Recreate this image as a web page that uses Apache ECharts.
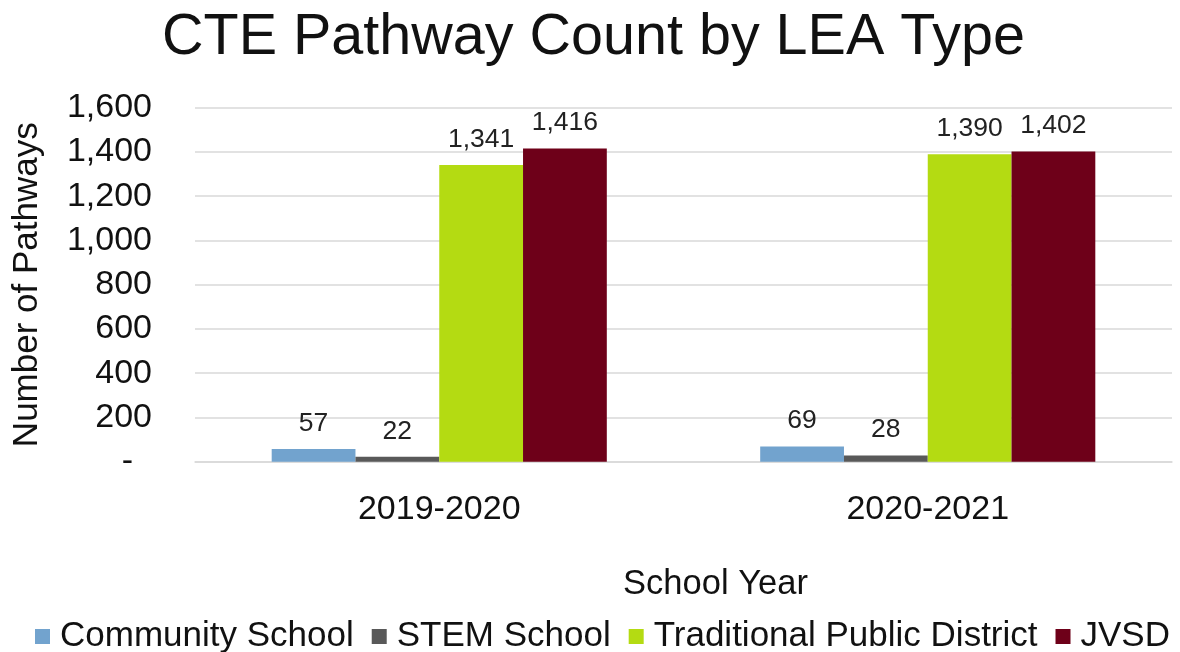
<!DOCTYPE html>
<html>
<head>
<meta charset="utf-8">
<script src="https://cdn.jsdelivr.net/npm/echarts@6/dist/echarts.min.js"></script>
<style>
  html, body { margin: 0; padding: 0; background: #fff; }
  #chart { width: 1180px; height: 652px; }
</style>
</head>
<body>
<div id="chart"></div>
<script>
// School years on the category axis
const years = ['2019-2020', '2020-2021'];

// Pathway counts per LEA type
const communitySchool = [57, 69];
const stemSchool = [22, 28];
const traditionalDistrict = [1341, 1390];
const jvsd = [1416, 1402];

const seriesNames = ['Community School', 'STEM School', 'Traditional Public District', 'JVSD'];
const seriesColors = ['#72A3CE', '#595959', '#B4DB12', '#6E0019'];

// Value axis range
const yMin = 0;
const yMax = 1600;
const yStep = 200;

const FONT = "'Liberation Sans', Arial, sans-serif";
const withCommas = v => String(v).replace(/\B(?=(\d{3})+(?!\d))/g, ',');

const seriesData = [communitySchool, stemSchool, traditionalDistrict, jvsd];

const chart = echarts.init(document.getElementById('chart'), null, { renderer: 'canvas' });

chart.setOption({
  backgroundColor: '#ffffff',
  animation: false,
  title: {
    text: 'CTE Pathway Count by LEA Type',
    left: 157,
    top: 4,
    textStyle: { fontFamily: FONT, fontSize: 57.5, fontWeight: 'normal', color: '#111' }
  },
  legend: {
    data: seriesNames,
    left: 30,
    top: 614,
    itemWidth: 15,
    itemHeight: 15,
    itemGap: 18,
    icon: 'rect',
    textStyle: { fontFamily: FONT, fontSize: 35, color: '#111', padding: [0, 0, 0, 5] }
  },
  grid: { left: 195, right: 8, top: 107.7, bottom: 190.3, containLabel: false },
  xAxis: {
    type: 'category',
    data: years,
    name: 'School Year',
    nameLocation: 'middle',
    nameGap: 105,
    nameTextStyle: { fontFamily: FONT, fontSize: 34.5, color: '#111', padding: [0, 0, 0, 64] },
    axisLine: { show: true, lineStyle: { color: '#d9d9d9', width: 1.5 } },
    axisTick: { show: false },
    axisLabel: { fontFamily: FONT, fontSize: 34, color: '#111', margin: 31 }
  },
  yAxis: {
    type: 'value',
    min: yMin,
    max: yMax,
    interval: yStep,
    name: 'Number of Pathways',
    nameLocation: 'middle',
    nameGap: 150,
    nameTextStyle: { fontFamily: FONT, fontSize: 35, color: '#111' },
    axisLine: { show: false },
    axisTick: { show: false },
    splitLine: { lineStyle: { color: '#d9d9d9', width: 1.5 } },
    axisLabel: {
      fontFamily: FONT,
      fontSize: 34,
      color: '#111',
      margin: 43,
      formatter: v => (v === 0 ? '-  ' : withCommas(v))
    }
  },
  series: seriesNames.map((name, i) => ({
    name,
    type: 'bar',
    data: seriesData[i],
    barGap: '0%',
    barCategoryGap: '31.4%',
    itemStyle: { color: seriesColors[i] },
    label: {
      show: true,
      position: 'top',
      distance: 12,
      fontFamily: FONT,
      fontSize: 26.5,
      color: '#222',
      formatter: p => withCommas(p.value)
    }
  }))
});
</script>
</body>
</html>
